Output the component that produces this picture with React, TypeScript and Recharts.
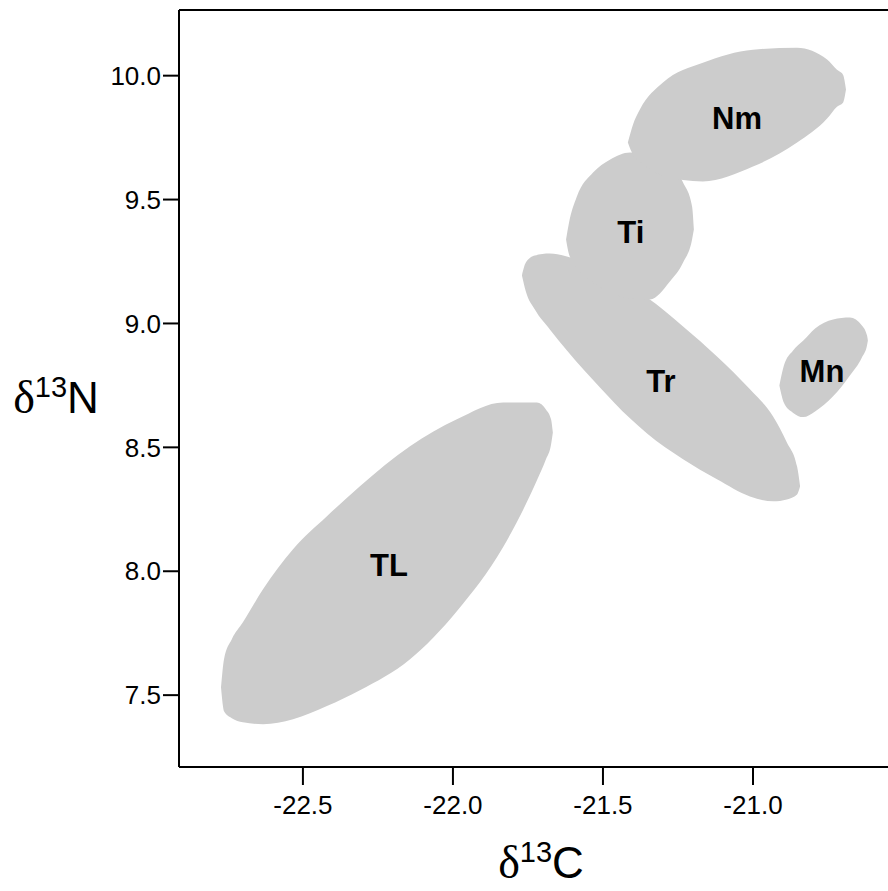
import React from 'react';
import {
  ComposedChart,
  Area,
  Scatter,
  XAxis,
  YAxis,
  ReferenceLine,
} from 'recharts';

// Outlines of the shaded regions (x = δ13C, upper/lower δ15N edge)
const tlX = [-22.773, -22.763, -22.737, -22.7, -22.633, -22.533, -22.42, -22.31, -22.143, -21.987, -21.833, -21.72, -21.69, -21.673, -21.667];
const tlHigh = [7.532, 7.645, 7.726, 7.794, 7.927, 8.089, 8.222, 8.343, 8.504, 8.613, 8.681, 8.681, 8.653, 8.613, 8.56];
const tlLow = [7.532, 7.435, 7.407, 7.391, 7.383, 7.403, 7.456, 7.52, 7.645, 7.839, 8.097, 8.367, 8.452, 8.512, 8.56];

const trX = [-21.77, -21.757, -21.727, -21.677, -21.62, -21.51, -21.41, -21.353, -21.233, -21.12, -21.01, -20.933, -20.887, -20.853, -20.843];
const trHigh = [9.194, 9.246, 9.274, 9.282, 9.27, 9.21, 9.149, 9.105, 8.988, 8.867, 8.734, 8.625, 8.52, 8.423, 8.343];
const trLow = [9.194, 9.129, 9.056, 8.976, 8.891, 8.742, 8.617, 8.556, 8.452, 8.371, 8.302, 8.282, 8.29, 8.31, 8.343];

const tiX = [-21.623, -21.613, -21.587, -21.533, -21.477, -21.41, -21.343, -21.277, -21.233, -21.203, -21.197];
const tiHigh = [9.339, 9.407, 9.512, 9.609, 9.661, 9.69, 9.681, 9.641, 9.569, 9.472, 9.379];
const tiLow = [9.339, 9.278, 9.226, 9.165, 9.125, 9.101, 9.097, 9.169, 9.246, 9.339, 9.379];

const nmX = [-21.417, -21.4, -21.377, -21.3, -21.167, -21.0, -20.853, -20.753, -20.72, -20.7, -20.69];
const nmHigh = [9.73, 9.802, 9.863, 9.972, 10.052, 10.105, 10.113, 10.065, 10.024, 10.004, 9.944];
const nmLow = [9.73, 9.681, 9.653, 9.597, 9.573, 9.633, 9.73, 9.827, 9.875, 9.891, 9.944];

const mnX = [-20.912, -20.897, -20.867, -20.833, -20.793, -20.733, -20.677, -20.637, -20.62, -20.617];
const mnHigh = [8.75, 8.83, 8.89, 8.93, 8.98, 9.016, 9.024, 8.992, 8.952, 8.931];
const mnLow = [8.75, 8.68, 8.64, 8.622, 8.645, 8.706, 8.79, 8.863, 8.911, 8.931];

const groupNames = ['Nm', 'Ti', 'Tr', 'Mn', 'TL'];
const groupLabelX = [-21.053, -21.407, -21.307, -20.77, -22.213];
const groupLabelY = [9.829, 9.371, 8.766, 8.81, 8.024];

const xTicks = [-22.5, -22.0, -21.5, -21.0];
const yTicks = [7.5, 8.0, 8.5, 9.0, 9.5, 10.0];
const xDomain = [-22.913, -20.5];
const yDomain = [7.21, 10.265];

const FILL = '#cccccc';
const SANS = '"Liberation Sans", Arial, Helvetica, sans-serif';
const SERIF = '"Liberation Serif", "Times New Roman", serif';

const toRange = (xs: number[], lo: number[], hi: number[]) =>
  xs.map((x, i) => ({ x, r: [lo[i], hi[i]] }));

const regions = [
  { key: 'TL', data: toRange(tlX, tlLow, tlHigh) },
  { key: 'Tr', data: toRange(trX, trLow, trHigh) },
  { key: 'Ti', data: toRange(tiX, tiLow, tiHigh) },
  { key: 'Nm', data: toRange(nmX, nmLow, nmHigh) },
  { key: 'Mn', data: toRange(mnX, mnLow, mnHigh) },
];

const labelData = groupNames.map((name, i) => ({
  name,
  x: groupLabelX[i],
  y: groupLabelY[i],
}));

const GroupLabel = (props: any) => {
  const { cx, cy, payload } = props;
  return (
    <text
      x={cx}
      y={cy + 11}
      textAnchor="middle"
      fontFamily={SANS}
      fontWeight="bold"
      fontSize={31}
      fill="#000"
    >
      {payload.name}
    </text>
  );
};

// δ13X axis title with superscript
const AxisTitle = ({ x, y, letter }: { x: number; y: number; letter: string }) => (
  <text x={x} y={y} textAnchor="middle" fill="#000">
    <tspan fontFamily={SERIF} fontSize={46}>δ</tspan>
    <tspan fontFamily={SANS} fontSize={29} dy={-16}>13</tspan>
    <tspan fontFamily={SANS} fontSize={44} dy={16}>{letter}</tspan>
  </text>
);

export default function App() {
  const tickStyle = { fontSize: 26, fill: '#000', fontFamily: SANS };
  return (
    <div
      style={{
        position: 'fixed',
        left: 0,
        top: 0,
        width: 888,
        height: 891,
        overflow: 'hidden',
        background: '#fff',
      }}
    >
      <ComposedChart
        width={920}
        height={891}
        margin={{ top: 10, right: 17, bottom: 0, left: 0 }}
      >
        <XAxis
          type="number"
          dataKey="x"
          domain={xDomain}
          allowDataOverflow
          ticks={xTicks}
          tickFormatter={(v: number) => v.toFixed(1)}
          tick={tickStyle}
          tickSize={18}
          tickMargin={11}
          height={124}
          axisLine={{ stroke: '#000', strokeWidth: 2 }}
          tickLine={{ stroke: '#000', strokeWidth: 2 }}
          label={({ viewBox }: any) => (
            <AxisTitle
              x={viewBox.x + viewBox.width / 2}
              y={viewBox.y + 111}
              letter="C"
            />
          )}
        />
        <YAxis
          type="number"
          domain={yDomain}
          allowDataOverflow
          ticks={yTicks}
          tickFormatter={(v: number) => v.toFixed(1)}
          tick={tickStyle}
          tickSize={16}
          tickMargin={2}
          width={179}
          axisLine={{ stroke: '#000', strokeWidth: 2 }}
          tickLine={{ stroke: '#000', strokeWidth: 2 }}
          label={({ viewBox }: any) => (
            <AxisTitle
              x={56}
              y={viewBox.y + viewBox.height / 2 + 24}
              letter="N"
            />
          )}
        />
        <ReferenceLine y={yDomain[1]} stroke="#000" strokeWidth={2} />
        <ReferenceLine x={xDomain[1]} stroke="#000" strokeWidth={2} />
        {regions.map((reg) => (
          <Area
            key={reg.key}
            data={reg.data}
            dataKey="r"
            type="monotone"
            stroke="none"
            fill={FILL}
            fillOpacity={1}
            dot={false}
            activeDot={false}
            isAnimationActive={false}
          />
        ))}
        <Scatter
          data={labelData}
          dataKey="y"
          shape={GroupLabel}
          isAnimationActive={false}
        />
      </ComposedChart>
    </div>
  );
}
